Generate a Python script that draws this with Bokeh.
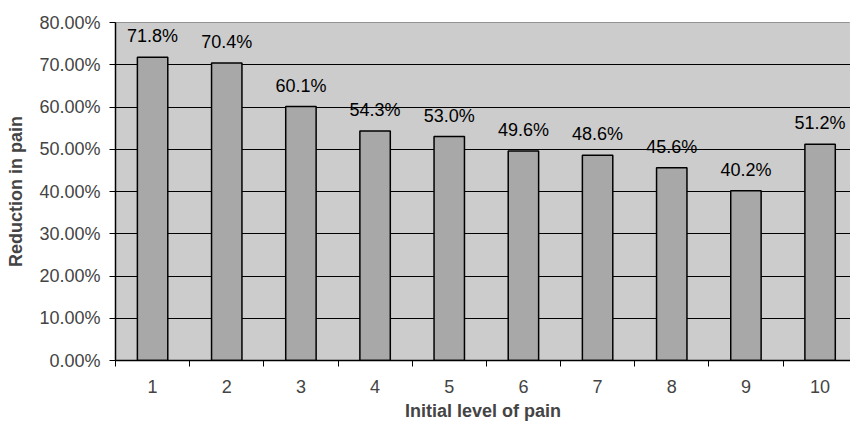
from bokeh.plotting import figure
from bokeh.models import ColumnDataSource, LabelSet, FixedTicker, NumeralTickFormatter, Range1d
from bokeh.core.properties import value
from bokeh.embed import file_html
from bokeh.resources import INLINE

levels = [1, 2, 3, 4, 5, 6, 7, 8, 9, 10]
reduction = [0.718, 0.704, 0.601, 0.543, 0.530, 0.496, 0.486, 0.456, 0.402, 0.512]
bar_labels = ["71.8%", "70.4%", "60.1%", "54.3%", "53.0%", "49.6%", "48.6%", "45.6%", "40.2%", "51.2%"]
y_ticks = [0.0, 0.1, 0.2, 0.3, 0.4, 0.5, 0.6, 0.7, 0.8]

FONT = "Liberation Sans"

src = ColumnDataSource(dict(x=levels, top=reduction, label=bar_labels))

p = figure(width=850, height=427, output_backend="svg", toolbar_location=None,
           x_range=Range1d(0.5, 10.41), y_range=Range1d(0, 0.8),
           min_border_left=115, min_border_right=0, min_border_top=22, min_border_bottom=67)

p.background_fill_color = "white"
p.border_fill_color = "white"
p.outline_line_color = "#808080"
p.outline_line_width = 1

# plot area background
p.quad(left=[0.5], right=[10.41], bottom=[0], top=[0.8], fill_color="#cccccc", line_color=None, level="image")

p.vbar(x="x", top="top", width=0.41, bottom=0, source=src,
       fill_color="#a8a8a8", line_color="black", line_width=1.5)

labels = LabelSet(x="x", y="top", text="label", source=src, text_align="center",
                  text_baseline="alphabetic", y_offset=15, text_font=value(FONT),
                  text_font_size=value("18px"), text_color="black")
p.add_layout(labels)

p.xgrid.grid_line_color = None
p.ygrid.grid_line_color = "black"
p.ygrid.grid_line_width = 1
p.ygrid.ticker = FixedTicker(ticks=y_ticks)
p.ygrid.level = "underlay"

p.yaxis.ticker = FixedTicker(ticks=y_ticks)
p.yaxis.formatter = NumeralTickFormatter(format="0.00%")
p.yaxis.major_tick_out = 6
p.yaxis.major_tick_in = 0
p.yaxis.minor_tick_line_color = None
p.yaxis.axis_line_color = "black"
p.yaxis.axis_line_width = 1.5
p.yaxis.major_tick_line_color = "black"
p.yaxis.major_label_text_font = FONT
p.yaxis.major_label_text_font_size = "18px"
p.yaxis.major_label_standoff = 9
p.yaxis.axis_label = "Reduction in pain"
p.yaxis.axis_label_text_font = FONT
p.yaxis.axis_label_text_font_size = "18px"
p.yaxis.axis_label_text_font_style = "bold"
p.yaxis.axis_label_standoff = 10

p.xaxis.ticker = FixedTicker(ticks=levels, minor_ticks=[x + 0.5 for x in range(0, 11)])
p.xaxis.major_tick_line_color = None
p.xaxis.major_tick_out = 0
p.xaxis.major_tick_in = 0
p.xaxis.minor_tick_line_color = "black"
p.xaxis.minor_tick_out = 6
p.xaxis.minor_tick_in = 0
p.xaxis.axis_line_color = "black"
p.xaxis.axis_line_width = 1.5
p.xaxis.major_label_text_font = FONT
p.xaxis.major_label_text_font_size = "18px"
p.xaxis.major_label_standoff = 13
p.xaxis.axis_label = "Initial level of pain"
p.xaxis.axis_label_text_font = FONT
p.xaxis.axis_label_text_font_size = "18px"
p.xaxis.axis_label_text_font_style = "bold"
p.xaxis.axis_label_standoff = 5

open("out.html", "w").write(file_html(p, INLINE))
